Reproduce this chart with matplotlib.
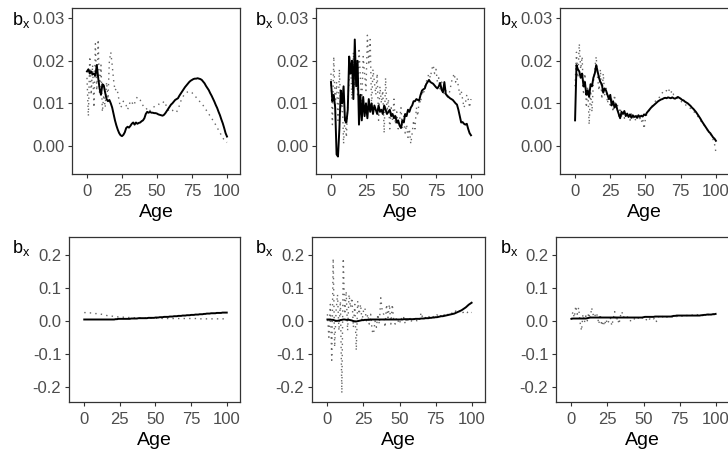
import matplotlib
matplotlib.use("Agg")
import matplotlib.pyplot as plt
import numpy as np

plt.rcParams['font.family'] = ['Liberation Sans', 'DejaVu Sans']
plt.rcParams['mathtext.default'] = 'regular'

# ---- data: b_x by age (0..100), solid = model 1, dotted = model 2 ----
p1_solid = [0.0175, 0.018, 0.017, 0.0175, 0.0168, 0.017, 0.0165, 0.019, 0.016, 0.0135,
            0.012, 0.0145, 0.0142, 0.0125, 0.011, 0.0105, 0.0108, 0.010, 0.009, 0.0075,
            0.006, 0.0048, 0.0038, 0.003, 0.0025, 0.0023, 0.0026, 0.0032, 0.0042, 0.0045,
            0.0043, 0.0047, 0.0052, 0.0055, 0.005, 0.0055, 0.0052, 0.0054, 0.0055, 0.0058,
            0.006, 0.0065, 0.0075, 0.008, 0.0078, 0.008, 0.0078, 0.0078, 0.0077, 0.0077,
            0.0076, 0.0074, 0.0073, 0.0072, 0.0071, 0.0073, 0.0077, 0.0082, 0.0087, 0.0092,
            0.0097, 0.010, 0.0104, 0.0108, 0.011, 0.0112, 0.0118, 0.0123, 0.0128, 0.0133,
            0.0138, 0.0142, 0.0146, 0.015, 0.0153, 0.0155, 0.0157, 0.0158, 0.0158, 0.0159,
            0.0158, 0.0157, 0.0155, 0.0151, 0.0147, 0.0141, 0.0136, 0.0131, 0.0124, 0.0118,
            0.0111, 0.0104, 0.0096, 0.0089, 0.008, 0.0072, 0.0062, 0.0053, 0.0042, 0.003,
            0.0022]
p1_dotted = [0.016, 0.007, 0.021, 0.012, 0.019, 0.009, 0.024, 0.013, 0.025, 0.012,
             0.019, 0.008, 0.012, 0.009, 0.015, 0.011, 0.020, 0.022, 0.019, 0.0155,
             0.013, 0.0135, 0.0125, 0.0105, 0.009, 0.0095, 0.0105, 0.010, 0.0095, 0.0085,
             0.0095, 0.0105, 0.0105, 0.0095, 0.010, 0.011, 0.0115, 0.0112, 0.0108, 0.010,
             0.0095, 0.009, 0.009, 0.0085, 0.008, 0.0083, 0.0087, 0.009, 0.0092, 0.0095,
             0.0097, 0.0098, 0.0097, 0.0098, 0.010, 0.0105, 0.010, 0.009, 0.0085, 0.008,
             0.0082, 0.0083, 0.0085, 0.0083, 0.008, 0.0085, 0.0095, 0.0105, 0.0112, 0.0118,
             0.0122, 0.0125, 0.0127, 0.0128, 0.0126, 0.0125, 0.0121, 0.0118, 0.0114, 0.011,
             0.0106, 0.0103, 0.0099, 0.0095, 0.009, 0.0085, 0.008, 0.0075, 0.007, 0.0065,
             0.006, 0.0055, 0.0049, 0.0043, 0.0037, 0.0031, 0.0025, 0.0019, 0.0014, 0.001,
             0.0008]

p2_solid = [0.015, 0.0105, 0.012, 0.009, -0.002, -0.0025, 0.004, 0.013, 0.010, 0.014,
            0.006, 0.0055, 0.0085, 0.021, 0.017, 0.020, 0.011, 0.025, 0.014, 0.020,
            0.005, 0.012, 0.006, 0.0115, 0.007, 0.010, 0.0065, 0.011, 0.008, 0.010,
            0.0075, 0.0095, 0.0085, 0.0075, 0.0095, 0.008, 0.0085, 0.0075, 0.0095, 0.0085,
            0.0075, 0.008, 0.0085, 0.007, 0.0075, 0.0065, 0.007, 0.0055, 0.006, 0.0048,
            0.0042, 0.006, 0.0055, 0.0075, 0.007, 0.0085, 0.008, 0.009, 0.0095, 0.0105,
            0.0105, 0.011, 0.0108, 0.0107, 0.012, 0.013, 0.0133, 0.0135, 0.0145, 0.015,
            0.0155, 0.015, 0.0148, 0.0146, 0.0142, 0.0138, 0.0135, 0.014, 0.0148, 0.0132,
            0.0126, 0.015, 0.0122, 0.0118, 0.0115, 0.0112, 0.011, 0.0108, 0.0104, 0.010,
            0.0097, 0.0085, 0.007, 0.0055, 0.0056, 0.0052, 0.005, 0.0052, 0.004, 0.003,
            0.0025]
p2_dotted = [0.017, 0.005, 0.021, 0.009, 0.015, 0.006, 0.018, 0.008, 0.012, 0.0005,
             0.007, 0.002, 0.010, 0.016, 0.019, 0.011, 0.022, 0.014, 0.020, 0.012,
             0.023, 0.016, 0.010, 0.021, 0.017, 0.013, 0.026, 0.019, 0.025, 0.009,
             0.018, 0.015, 0.012, 0.017, 0.006, 0.014, 0.010, 0.013, 0.003, 0.016,
             0.008, 0.011, 0.004, 0.009, 0.006, 0.011, 0.005, 0.008, 0.004, 0.006,
             0.009, 0.004, 0.007, 0.003, 0.005, 0.002, 0.004, 0.0005, 0.003, 0.006,
             0.004, 0.009, 0.007, 0.011, 0.010, 0.013, 0.012, 0.014, 0.015, 0.016,
             0.017, 0.016, 0.018, 0.019, 0.017, 0.018, 0.015, 0.016, 0.013, 0.015,
             0.014, 0.012, 0.013, 0.011, 0.012, 0.013, 0.015, 0.016, 0.017, 0.015,
             0.016, 0.014, 0.012, 0.013, 0.011, 0.009, 0.010, 0.012, 0.011, 0.009,
             0.011]

p3_solid = [0.006, 0.019, 0.018, 0.0175, 0.016, 0.017, 0.014, 0.015, 0.012, 0.013,
            0.0115, 0.0145, 0.014, 0.016, 0.017, 0.019, 0.0175, 0.016, 0.015, 0.0145,
            0.0125, 0.0135, 0.013, 0.012, 0.011, 0.012, 0.0095, 0.0105, 0.009, 0.0098,
            0.0085, 0.0075, 0.0065, 0.008, 0.0075, 0.0082, 0.007, 0.0076, 0.0068, 0.0074,
            0.0066, 0.0072, 0.0068, 0.007, 0.0066, 0.0072, 0.0068, 0.0071, 0.0069, 0.0074,
            0.0072, 0.0078, 0.0082, 0.0086, 0.009, 0.0093, 0.0096, 0.0099, 0.0102, 0.0105,
            0.0107, 0.0109, 0.011, 0.0112, 0.0113, 0.0112, 0.0114, 0.0113, 0.0112, 0.0114,
            0.0112, 0.0111, 0.0113, 0.0115, 0.0113, 0.0111, 0.0108, 0.0107, 0.0104, 0.0102,
            0.010, 0.0097, 0.0094, 0.009, 0.0087, 0.0083, 0.0079, 0.0074, 0.0069, 0.0064,
            0.0058, 0.0053, 0.0048, 0.0043, 0.0038, 0.0033, 0.003, 0.0025, 0.002, 0.0017,
            0.0012]
p3_dotted = [0.014, 0.022, 0.016, 0.024, 0.018, 0.021, 0.012, 0.017, 0.009, 0.014,
             0.005, 0.013, 0.008, 0.015, 0.018, 0.021, 0.016, 0.013, 0.018, 0.011,
             0.017, 0.012, 0.014, 0.010, 0.012, 0.009, 0.011, 0.008, 0.012, 0.009,
             0.010, 0.007, 0.009, 0.007, 0.008, 0.0065, 0.0075, 0.0065, 0.007, 0.006,
             0.0075, 0.0065, 0.007, 0.006, 0.0075, 0.006, 0.0065, 0.0055, 0.0065, 0.004,
             0.0065, 0.0075, 0.008, 0.0085, 0.009, 0.0095, 0.010, 0.0105, 0.0108, 0.011,
             0.0115, 0.012, 0.0125, 0.013, 0.0128, 0.013, 0.0125, 0.0133, 0.0125, 0.013,
             0.012, 0.0118, 0.0115, 0.011, 0.0108, 0.0105, 0.0103, 0.010, 0.0098, 0.0095,
             0.0093, 0.009, 0.0088, 0.0085, 0.0082, 0.0078, 0.0074, 0.007, 0.0066, 0.006,
             0.0056, 0.0052, 0.0047, 0.0042, 0.0037, 0.0032, 0.0028, 0.0022, 0.0015, 0.0005,
             -0.0015]

p4_solid = [0.004, 0.004, 0.004, 0.004, 0.004, 0.004, 0.004, 0.004, 0.004, 0.004,
            0.004, 0.004, 0.004, 0.004, 0.004, 0.004, 0.004, 0.004, 0.004, 0.004,
            0.004, 0.004, 0.005, 0.005, 0.006, 0.006, 0.006, 0.006, 0.006, 0.006,
            0.006, 0.006, 0.006, 0.007, 0.007, 0.007, 0.007, 0.007, 0.008, 0.008,
            0.008, 0.008, 0.008, 0.008, 0.008, 0.009, 0.009, 0.009, 0.009, 0.009,
            0.010, 0.010, 0.010, 0.011, 0.011, 0.011, 0.012, 0.012, 0.012, 0.012,
            0.013, 0.013, 0.013, 0.014, 0.014, 0.014, 0.015, 0.015, 0.015, 0.016,
            0.016, 0.016, 0.017, 0.017, 0.017, 0.018, 0.018, 0.018, 0.019, 0.019,
            0.019, 0.020, 0.020, 0.020, 0.021, 0.021, 0.022, 0.022, 0.022, 0.023,
            0.023, 0.023, 0.023, 0.024, 0.024, 0.024, 0.024, 0.025, 0.025, 0.025,
            0.025]
p4_dotted = [0.025, 0.025, 0.025, 0.024, 0.024, 0.024, 0.023, 0.023, 0.022, 0.022,
             0.021, 0.021, 0.020, 0.019, 0.018, 0.017, 0.016, 0.015, 0.015, 0.014,
             0.014, 0.013, 0.013, 0.012, 0.012, 0.012, 0.011, 0.011, 0.011, 0.010,
             0.010, 0.010, 0.010, 0.010, 0.009, 0.009, 0.009, 0.009, 0.009, 0.009,
             0.008, 0.008, 0.008, 0.008, 0.008, 0.008, 0.008, 0.008, 0.008, 0.008,
             0.008, 0.008, 0.008, 0.008, 0.008, 0.007, 0.007, 0.007, 0.007, 0.007,
             0.007, 0.007, 0.007, 0.007, 0.007, 0.007, 0.007, 0.007, 0.007, 0.007,
             0.007, 0.007, 0.007, 0.007, 0.007, 0.007, 0.007, 0.007, 0.007, 0.007,
             0.006, 0.006, 0.006, 0.006, 0.006, 0.006, 0.006, 0.006, 0.006, 0.006,
             0.006, 0.006, 0.006, 0.006, 0.006, 0.006, 0.006, 0.006, 0.006, 0.006,
             0.006]

p5_solid = [0.004, 0.004, 0.004, 0.003, 0.003, 0.001, 0.000, 0.000, 0.001, 0.002,
            0.003, 0.004, 0.004, 0.003, 0.003, 0.003, 0.002, 0.001, -0.001, -0.002,
            -0.002, -0.001, 0.000, 0.001, 0.002, 0.002, 0.003, 0.003, 0.003, 0.003,
            0.004, 0.004, 0.004, 0.004, 0.004, 0.004, 0.004, 0.004, 0.004, 0.004,
            0.004, 0.004, 0.004, 0.004, 0.004, 0.004, 0.004, 0.004, 0.004, 0.004,
            0.004, 0.004, 0.004, 0.005, 0.005, 0.005, 0.005, 0.005, 0.005, 0.005,
            0.005, 0.006, 0.006, 0.006, 0.006, 0.007, 0.007, 0.007, 0.008, 0.008,
            0.008, 0.009, 0.009, 0.010, 0.010, 0.011, 0.011, 0.012, 0.013, 0.014,
            0.014, 0.015, 0.016, 0.017, 0.018, 0.019, 0.020, 0.021, 0.022, 0.024,
            0.026, 0.028, 0.030, 0.032, 0.035, 0.038, 0.041, 0.045, 0.049, 0.052,
            0.055]
p5_dotted = [0.02, -0.05, 0.05, -0.12, 0.19, -0.08, 0.03, 0.08, -0.03, 0.06,
             -0.22, 0.19, 0.02, 0.09, -0.03, 0.08, 0.04, 0.07, -0.02, 0.05,
             -0.09, 0.06, 0.02, 0.05, 0.00, 0.03, 0.04, 0.00, 0.02, -0.01,
             0.02, -0.03, -0.04, 0.00, -0.02, 0.02, -0.01, 0.07, 0.03, 0.02,
             -0.02, 0.05, 0.01, 0.05, -0.01, 0.05, 0.00, -0.01, 0.01, 0.00,
             -0.01, 0.01, 0.00, 0.01, -0.01, 0.01, 0.00, 0.01, -0.005, 0.01,
             0.005, 0.01, 0.00, 0.01, 0.005, 0.025, 0.01, 0.005, 0.01, 0.015,
             0.01, 0.015, 0.012, 0.01, 0.015, 0.012, 0.018, 0.015, 0.01, 0.02,
             0.015, 0.018, 0.02, 0.015, 0.022, 0.02, 0.025, 0.02, 0.025, 0.03,
             0.025, 0.03, 0.028, 0.032, 0.025, 0.03, 0.028, 0.025, 0.03, 0.028,
             0.025]

p6_solid = [0.006, 0.007, 0.007, 0.007, 0.007, 0.007, 0.007, 0.007, 0.007, 0.007,
            0.007, 0.008, 0.009, 0.010, 0.010, 0.010, 0.010, 0.010, 0.010, 0.010,
            0.010, 0.010, 0.010, 0.010, 0.010, 0.010, 0.010, 0.010, 0.010, 0.010,
            0.010, 0.010, 0.010, 0.010, 0.010, 0.010, 0.010, 0.010, 0.010, 0.010,
            0.010, 0.010, 0.010, 0.010, 0.010, 0.010, 0.010, 0.010, 0.010, 0.010,
            0.011, 0.012, 0.012, 0.012, 0.012, 0.012, 0.012, 0.012, 0.013, 0.013,
            0.013, 0.013, 0.013, 0.013, 0.013, 0.013, 0.013, 0.013, 0.013, 0.013,
            0.014, 0.015, 0.015, 0.016, 0.016, 0.016, 0.016, 0.016, 0.016, 0.016,
            0.016, 0.016, 0.016, 0.016, 0.016, 0.016, 0.016, 0.016, 0.016, 0.016,
            0.017, 0.017, 0.018, 0.018, 0.019, 0.019, 0.019, 0.019, 0.020, 0.020,
            0.021]
p6_dotted = [0.005, 0.028, 0.010, 0.045, 0.020, 0.040, -0.005, -0.030, 0.020, -0.005,
             0.015, 0.000, 0.025, 0.005, 0.040, 0.020, 0.010, 0.025, 0.015, -0.010,
             0.020, -0.015, 0.000, -0.015, 0.005, -0.010, 0.000, 0.010, -0.015, 0.005,
             0.028, 0.000, 0.010, -0.010, 0.015, 0.028, 0.010, 0.015, 0.008, 0.012,
             0.003, 0.000, 0.005, 0.002, 0.008, 0.005, 0.010, 0.006, 0.003, 0.008,
             0.012, 0.008, 0.003, 0.010, 0.005, 0.008, 0.011, 0.006, 0.010, -0.002,
             0.012, 0.012, 0.008, 0.013, 0.010, 0.015, 0.012, 0.011, 0.014, 0.013,
             0.012, 0.014, 0.016, 0.013, 0.017, 0.015, 0.016, 0.014, 0.017, 0.018,
             0.016, 0.017, 0.016, 0.018, 0.017, 0.016, 0.018, 0.019, 0.017, 0.018,
             0.019, 0.018, 0.019, 0.020, 0.021, 0.019, 0.020, 0.022, 0.021, 0.020,
             0.025]

xticks = [0, 25, 50, 75, 100]
top_yticks = [0.00, 0.01, 0.02, 0.03]
top_ylabels = ["0.00", "0.01", "0.02", "0.03"]
bot_yticks = [-0.2, -0.1, 0.0, 0.1, 0.2]
bot_ylabels = ["-0.2", "-0.1", "0.0", "0.1", "0.2"]

panels = [(p1_solid, p1_dotted), (p2_solid, p2_dotted), (p3_solid, p3_dotted),
          (p4_solid, p4_dotted), (p5_solid, p5_dotted), (p6_solid, p6_dotted)]

# axes boxes in pixels: left, top, right, bottom
W, H = 728, 454
boxes = [(72, 8, 240, 174), (316, 8, 484, 174), (560, 8, 729, 174),
         (69, 237, 240, 402), (312, 237, 485, 402), (556, 237, 729, 402)]
bx_pos = [(12, 25), (255, 25), (500, 25), (12, 253), (255, 253), (500, 253)]

fig = plt.figure(figsize=(W / 100, H / 100), dpi=100)

for i, ((solid, dotted), (l, t, r, b)) in enumerate(zip(panels, boxes)):
    ax = fig.add_axes([l / W, 1 - b / H, (r - l) / W, (b - t) / H])
    ax.plot(np.arange(len(dotted)), dotted, color="#666666", lw=1.0,
            linestyle=(0, (1, 3)))
    ax.plot(np.arange(len(solid)), solid, color="black", lw=1.4)
    ax.set_xlim(-10.7, 109.3)
    ax.set_xticks(xticks)
    ax.set_xticklabels([str(v) for v in xticks])
    if i < 3:
        ax.set_ylim(-0.0066, 0.0324)
        ax.set_yticks(top_yticks)
        ax.set_yticklabels(top_ylabels)
    else:
        ax.set_ylim(-0.247, 0.255)
        ax.set_yticks(bot_yticks)
        ax.set_yticklabels(bot_ylabels)
    ax.tick_params(length=3, width=0.8, color="#333333", labelcolor="#4D4D4D",
                   labelsize=12)
    ax.tick_params(axis="x", pad=4.5)
    ax.tick_params(axis="y", pad=2.5)
    for s in ax.spines.values():
        s.set_color("#333333")
        s.set_linewidth(0.9)
    ax.set_xlabel("Age", fontsize=14, labelpad=3)
    fig.text(bx_pos[i][0] / W, 1 - bx_pos[i][1] / H, r"$\mathregular{b_x}$",
             fontsize=13, ha="left", va="baseline")

fig.savefig("out.png", dpi=100)
